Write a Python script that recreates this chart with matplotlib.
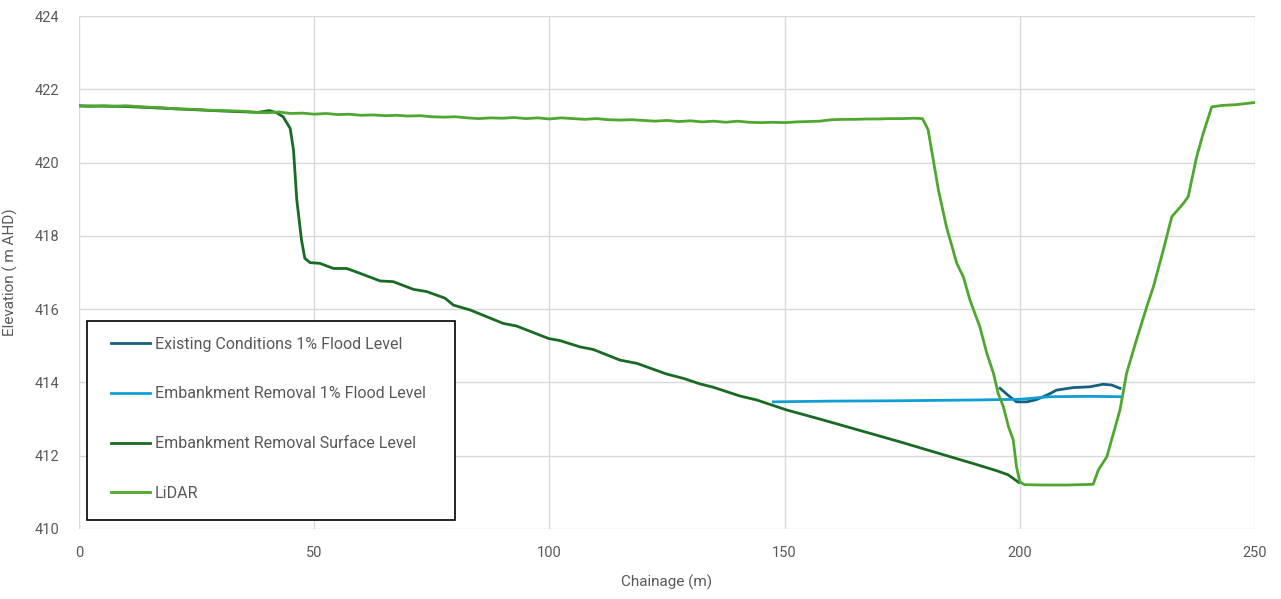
import matplotlib
matplotlib.use("Agg")
import matplotlib.pyplot as plt
from matplotlib.patches import Rectangle

plt.rcParams['font.family'] = ['Roboto', 'DejaVu Sans']

# ---------------- data ----------------
lidar_x = [0, 2.5, 5, 7.5, 10, 12.5, 15, 17.5, 20, 22.5, 25, 27.5, 30, 32.5, 35, 37.5,
           40, 42.5, 45, 47.5, 50, 52.5, 55, 57.5, 60, 62.5, 65, 67.5, 70, 72.5, 75, 77.5,
           80, 82.5, 85, 87.5, 90, 92.5, 95, 97.5, 100, 102.5, 105, 107.5, 110, 112.5,
           115, 117.5, 120, 122.5, 125, 127.5, 130, 132.5, 135, 137.5, 140, 142.5, 145,
           147.5, 150, 152.5, 155, 157.5, 160, 162.5, 165, 167.5, 170, 172.5, 175, 177.5,
           179.3, 180.5, 182.7, 184.4, 186.6, 188.0, 189.4, 191.5, 193.0, 194.4, 195.4,
           196.5, 197.6, 198.6, 199.3, 200.0, 201.0, 205, 210, 215.6, 216.7, 218.5, 219.9,
           221.3, 222.7, 224.8, 227.0, 228.4, 230.5, 232.3, 234.8, 235.8, 237.6, 239.0,
           240.8, 243, 246, 250]
lidar_y = [421.54, 421.53, 421.55, 421.54, 421.55, 421.53, 421.51, 421.50, 421.47, 421.46,
           421.45, 421.43, 421.42, 421.41, 421.40, 421.37, 421.36, 421.38, 421.34, 421.35,
           421.32, 421.34, 421.31, 421.32, 421.29, 421.30, 421.28, 421.29, 421.27, 421.28,
           421.25, 421.24, 421.25, 421.22, 421.20, 421.22, 421.21, 421.23, 421.20, 421.22,
           421.19, 421.22, 421.20, 421.18, 421.20, 421.17, 421.16, 421.17, 421.15, 421.13,
           421.15, 421.12, 421.14, 421.11, 421.13, 421.10, 421.13, 421.10, 421.09, 421.10,
           421.09, 421.11, 421.12, 421.13, 421.17, 421.18, 421.18, 421.19, 421.19, 421.20,
           421.20, 421.21, 421.20, 420.90, 419.25, 418.25, 417.25, 416.88, 416.25, 415.52,
           414.79, 414.25, 413.70, 413.34, 412.79, 412.43, 411.70, 411.29, 411.21, 411.20,
           411.20, 411.22, 411.61, 411.97, 412.61, 413.25, 414.25, 415.16, 416.07, 416.61,
           417.61, 418.52, 418.89, 419.07, 420.16, 420.80, 421.52, 421.56, 421.58, 421.64]

surface_x = [0, 10, 20, 30, 38, 40.5, 42, 43.4, 44.9, 45.6, 46.3, 47.3, 48.0, 49.1, 51.2,
             54.1, 56.9, 59.7, 64.0, 66.8, 71.1, 73.9, 77.8, 79.6, 83.1, 90.2, 93.0, 99.8,
             102.3, 106.5, 109.3, 115.0, 118.6, 124.9, 128.5, 132.0, 134.8, 140.5, 144.1,
             150.4, 157.5, 174.5, 190.0, 195.1, 197.5, 199.8]
surface_y = [421.55, 421.53, 421.47, 421.41, 421.37, 421.42, 421.36, 421.25, 420.93, 420.34,
             418.98, 417.89, 417.39, 417.27, 417.25, 417.11, 417.11, 416.98, 416.77, 416.75,
             416.54, 416.48, 416.30, 416.11, 415.98, 415.61, 415.54, 415.20, 415.14, 414.97,
             414.90, 414.61, 414.52, 414.23, 414.11, 413.96, 413.87, 413.63, 413.52, 413.25,
             413.00, 412.38, 411.79, 411.59, 411.48, 411.27]

existing_x = [195.8, 197.5, 199.3, 201.5, 203.5, 205.0, 206.5, 207.8, 211.4, 214.9, 217.7, 219.5, 221.3]
existing_y = [413.84, 413.65, 413.47, 413.47, 413.53, 413.61, 413.70, 413.79, 413.86, 413.88, 413.95, 413.93, 413.84]

removal_x = [147.6, 160, 174.5, 190, 200, 206.4, 215, 221.3]
removal_y = [413.47, 413.49, 413.50, 413.52, 413.54, 413.61, 413.62, 413.61]

labels = ["Existing Conditions 1% Flood Level", "Embankment Removal 1% Flood Level",
          "Embankment Removal Surface Level", "LiDAR"]
x_ticks = [0, 50, 100, 150, 200, 250]
y_ticks = [410, 412, 414, 416, 418, 420, 422, 424]

# ---------------- plot ----------------
fig = plt.figure(figsize=(12.81, 5.99), dpi=100)
ax = fig.add_axes([79/1281, 1-529/599, (1255-79)/1281, (529-16)/599])

lw = 2.0
l1, = ax.plot(existing_x, existing_y, color="#156082", lw=lw, label=labels[0], zorder=3)
l2, = ax.plot(removal_x, removal_y, color="#0F9ED5", lw=lw, label=labels[1], zorder=3)
l3, = ax.plot(surface_x, surface_y, color="#196B24", lw=lw, label=labels[2], zorder=3)
l4, = ax.plot(lidar_x, lidar_y, color="#4EA72E", lw=lw, label=labels[3], zorder=4)

ax.set_xlim(0, 250)
ax.set_ylim(410, 424)
ax.set_xticks(x_ticks)
ax.set_yticks(y_ticks)
ax.grid(True, color="#d9d9d9", lw=1.0)
ax.set_axisbelow(True)
for s in ax.spines.values():
    s.set_visible(False)
ax.tick_params(length=0, labelsize=10.5, labelcolor="#595959")
ax.tick_params(axis='y', pad=14)
ax.tick_params(axis='x', pad=12)

ax.set_xlabel("Chainage (m)", fontsize=11, color="#595959", labelpad=11)
ax.set_ylabel("Elevation ( m AHD)", fontsize=11, color="#595959", labelpad=12)

# legend frame (white box with black border)
frame = Rectangle((8/1176, 9/513), 368/1176, 199/513, transform=ax.transAxes,
                  facecolor="white", edgecolor="black", lw=1.2, zorder=5)
ax.add_patch(frame)

leg = ax.legend(handles=[l1, l2, l3, l4], loc="upper left",
                bbox_to_anchor=(32/1176, (529-336.6)/513), borderaxespad=0,
                fontsize=11.5, frameon=False, labelspacing=2.18, borderpad=0,
                handlelength=2.45, handletextpad=0.3)
leg.set_zorder(6)
for t in leg.get_texts():
    t.set_color("#595959")

fig.savefig("out.png", dpi=100)
